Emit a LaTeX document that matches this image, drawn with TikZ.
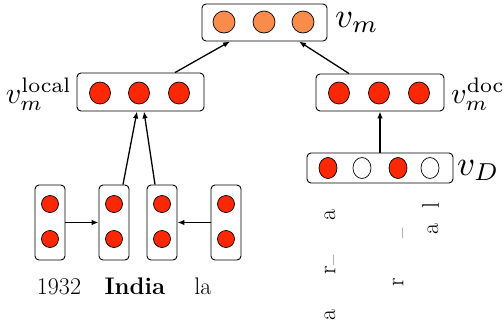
\documentclass[tikz,border=0pt]{standalone}
\usepackage{graphicx}
\usetikzlibrary{arrows.meta,calc,shapes.geometric}
\definecolor{cred}{RGB}{252,40,5}
\definecolor{corange}{RGB}{250,140,75}
\newcommand{\bigmath}[1]{\scalebox{3.5}{\fontsize{10}{12}\selectfont$#1$}}
\newcommand{\midmath}[1]{\scalebox{3.0}{\fontsize{10}{12}\selectfont$#1$}}
\begin{document}
\begin{tikzpicture}[x=1pt,y=-1pt,
  vbox/.style={draw=black,line width=0.9pt,rounded corners=4pt,inner sep=0pt,fill=white},
  odot/.style={circle,draw=black,line width=0.7pt,inner sep=0pt,minimum size=22pt,fill=corange},
  rdot/.style={ellipse,draw=black,line width=0.7pt,inner sep=0pt,minimum width=21pt,minimum height=22pt,fill=cred},
  sdot/.style={circle,draw=black,line width=0.7pt,inner sep=0pt,minimum size=17pt,fill=cred},
  ddot/.style={ellipse,draw=black,line width=0.7pt,inner sep=0pt,minimum width=18pt,minimum height=21pt},
  conn/.style={line width=1.3pt,-{Latex[length=7pt,width=5.5pt]}},
  lab/.style={inner sep=0pt,font=\fontsize{24}{28}\selectfont},
  mlab/.style={inner sep=0pt},
  rot/.style={inner sep=0pt,rotate=90,font=\fontsize{24}{28}\selectfont},
  rotsm/.style={inner sep=0pt,rotate=90,font=\fontsize{14}{16}\selectfont}
]
\useasboundingbox (0,0) rectangle (504,327);
% top box
\node[vbox,minimum width=125pt,minimum height=37pt] (vm) at (264.5,22.5) {};
\node[odot] (o1) at (224,22) {};
\node[odot] (o2) at (264,22) {};
\node[odot] (o3) at (303,22) {};
\node[mlab,anchor=base west] (lvm) at (335,27) {\bigmath{v_m}};
% local box
\node[vbox,minimum width=127pt,minimum height=38pt] (loc) at (140.5,92) {};
\node[rdot] (l1) at (100,93) {};
\node[rdot] (l2) at (139,93) {};
\node[rdot] (l3) at (179,93) {};
\node[mlab,anchor=base east] (lloc) at (72,103) {\midmath{v_m^{\mathrm{local}}}};
% doc box
\node[vbox,minimum width=128pt,minimum height=37pt] (doc) at (380,92.5) {};
\node[rdot] (d1) at (339,93) {};
\node[rdot] (d2) at (379,93) {};
\node[rdot] (d3) at (419,93) {};
\node[mlab,anchor=base west] (ldoc) at (451,103) {\midmath{v_m^{\mathrm{doc}}}};
% vD box
\node[vbox,minimum width=146pt,minimum height=30pt] (vD) at (380,168) {};
\node[ddot,fill=cred] (e1) at (328,168) {};
\node[ddot,fill=white] (e2) at (362,168) {};
\node[ddot,fill=cred] (e3) at (398,168) {};
\node[ddot,fill=white] (e4) at (430,168) {};
\node[mlab,anchor=base west] (lvD) at (457,175) {\bigmath{v_D}};
% token boxes
\node[vbox,minimum width=30pt,minimum height=75pt] (t1) at (50,222.5) {};
\node[vbox,minimum width=30pt,minimum height=75pt] (t2) at (114,222.5) {};
\node[vbox,minimum width=30pt,minimum height=75pt] (t3) at (162,222.5) {};
\node[vbox,minimum width=30pt,minimum height=75pt] (t4) at (226,222.5) {};
\node[sdot] (t1a) at (50,204) {};
\node[sdot] (t1b) at (50,239) {};
\node[sdot] (t2a) at (114,204) {};
\node[sdot] (t2b) at (114,239) {};
\node[sdot] (t3a) at (162,204) {};
\node[sdot] (t3b) at (162,239) {};
\node[sdot] (t4a) at (226,204) {};
\node[sdot] (t4b) at (226,239) {};
% words
\node[lab,anchor=base] (w1) at (59,294) {1932};
\node[lab,anchor=base] (w2) at (135,294) {\textbf{India}};
\node[lab,anchor=base] (w3) at (203,294) {la};
% rotated fragments
\node[rot] (r1) at (330,215) {a};
\node[rotsm] (r2) at (333,260) {\_};
\node[rot] (r3) at (330,270) {r};
\node[rot] (r4) at (330,315) {a};
\node[rotsm] (r5) at (402,233) {\_};
\node[rot] (r6) at (398,282) {r};
\node[rot] (r7) at (430.5,205) {l};
\node[rot] (r8) at (433,229) {a};
% connectors
\draw[conn] (t1.east) -- (t2.west);
\draw[conn] (t4.west) -- (t3.east);
\draw[conn] ($(t2.north)+(9,0)$) -- ($(loc.south)+(-3.5,0)$);
\draw[conn] ($(t3.north)+(-7,0)$) -- ($(loc.south)+(3.5,0)$);
\draw[conn] ($(loc.north)+(34.5,0)$) -- ($(vm.south)+(-34.5,0)$);
\draw[conn] ($(doc.north)+(-31,0)$) -- ($(vm.south)+(34.5,0)$);
\draw[conn] (vD.north) -- (doc.south);
\end{tikzpicture}
\end{document}
